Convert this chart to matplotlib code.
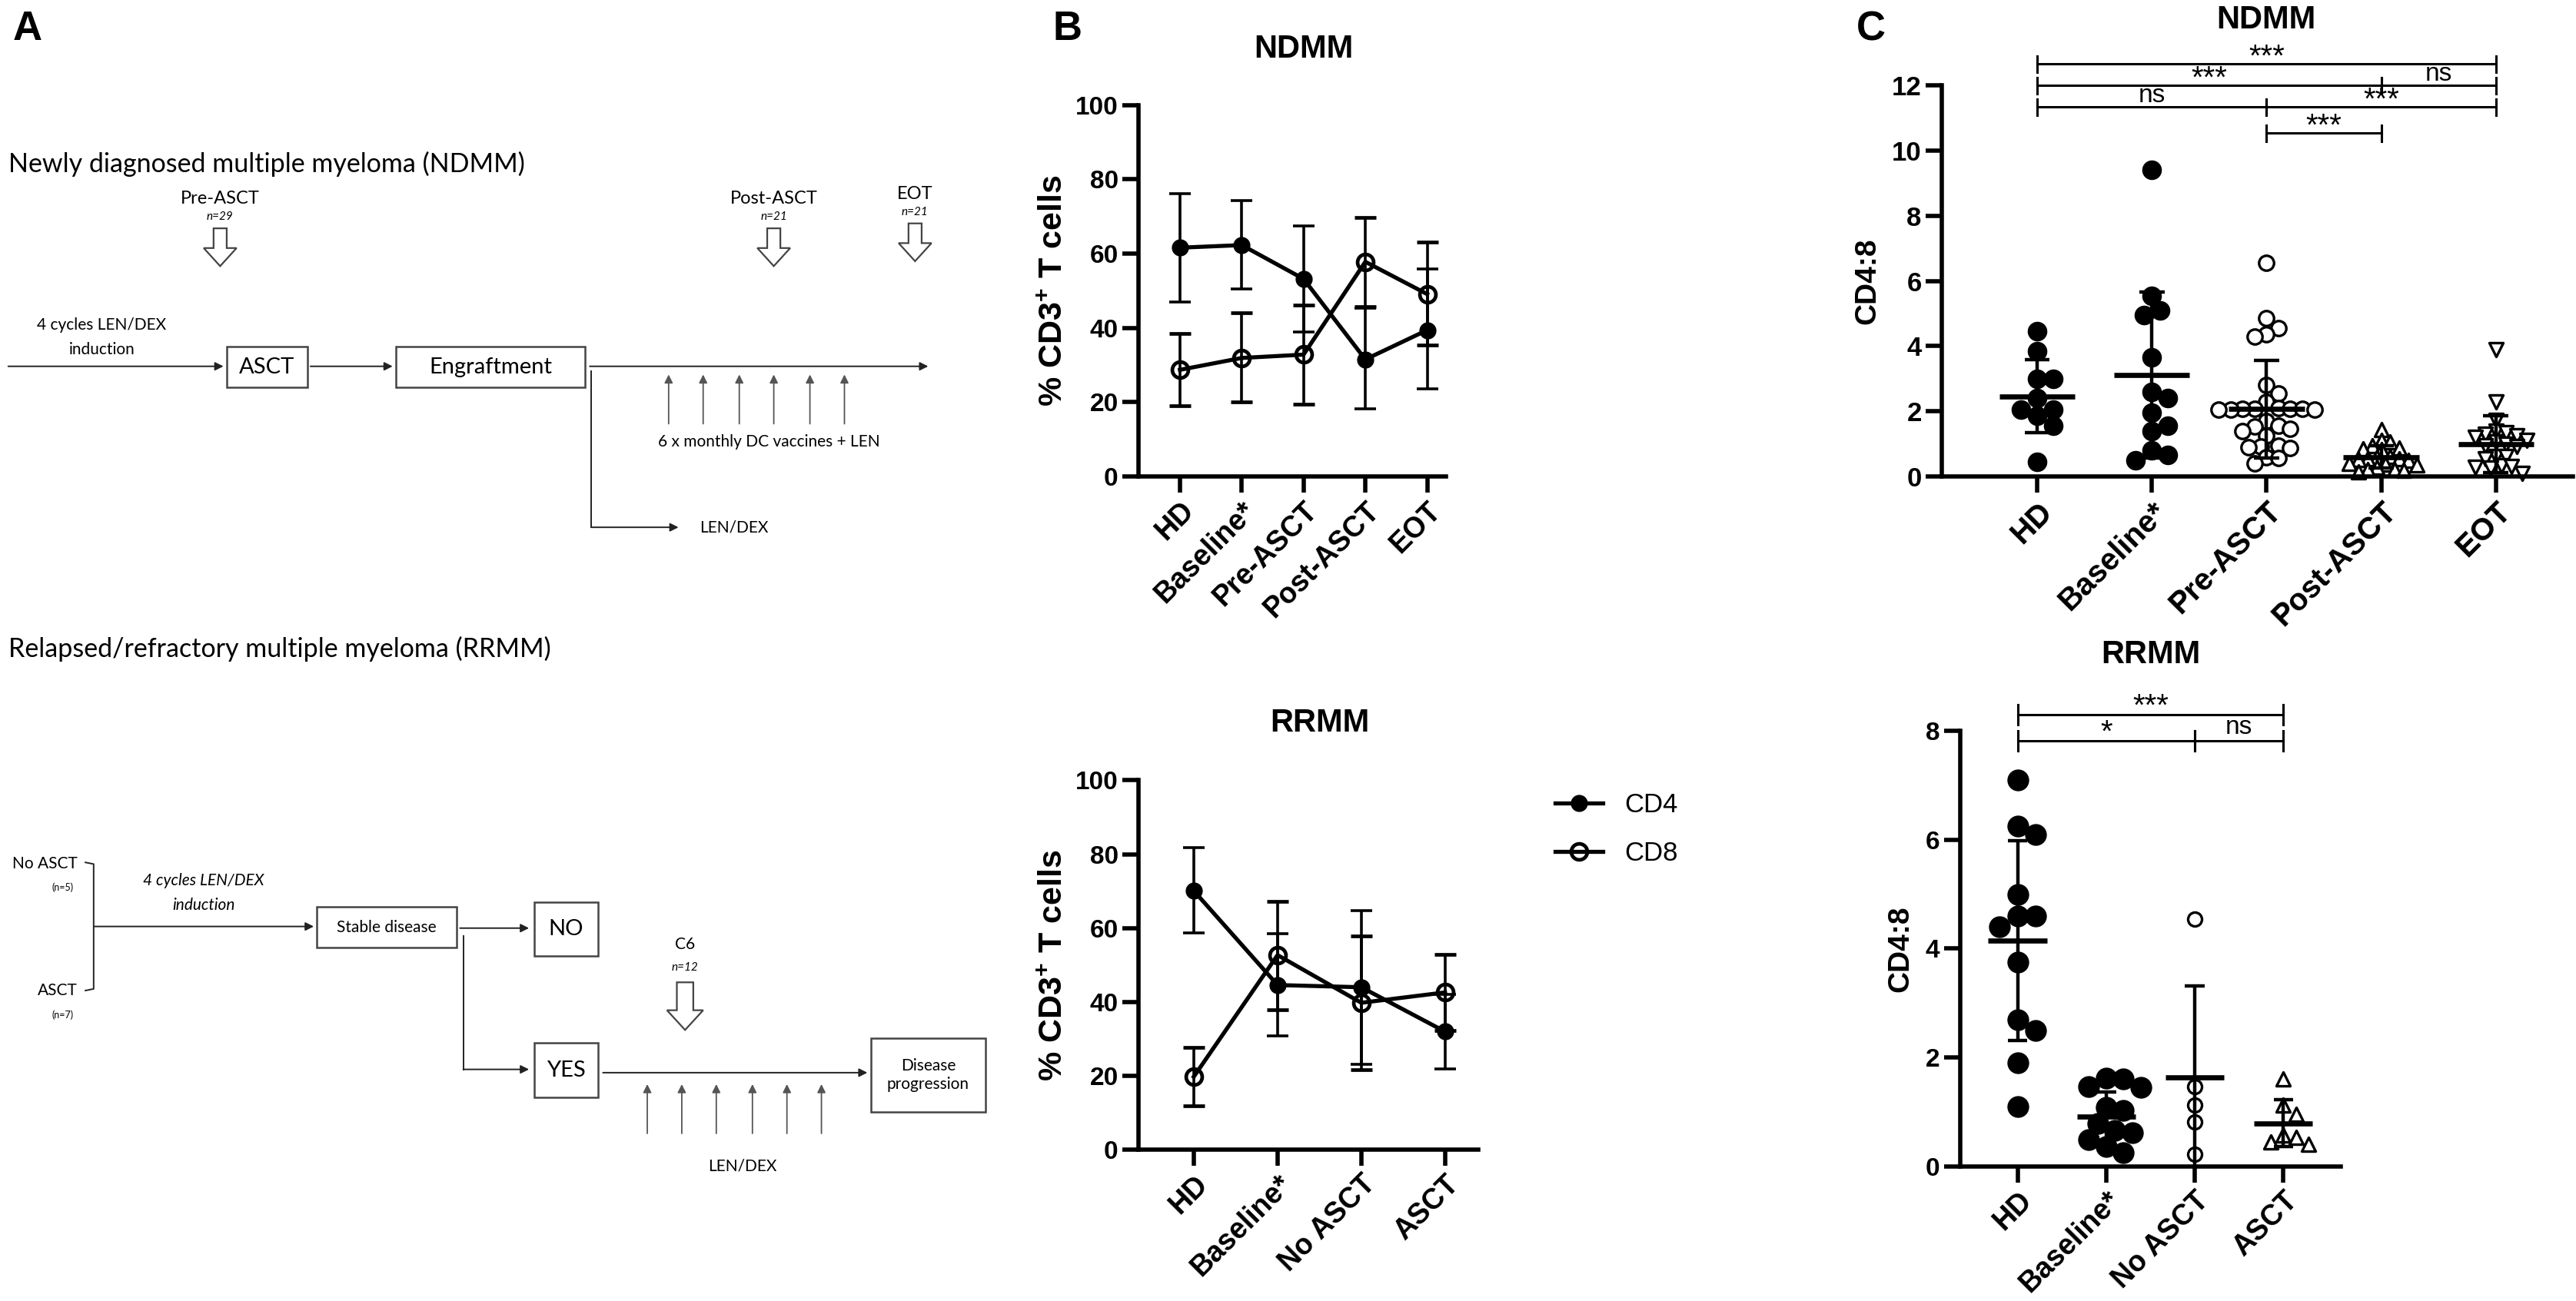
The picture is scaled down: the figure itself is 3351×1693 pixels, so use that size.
import numpy as np
import matplotlib
matplotlib.use("Agg")
import matplotlib.pyplot as plt
import matplotlib.transforms as mtransforms
from matplotlib.lines import Line2D
from matplotlib.patches import Polygon, Rectangle

# layout grid: everything is placed on a 1568 x 792 grid, scaled to the figure
W, H = 1568, 792

# ---- panel B: % of CD3+ T cells, mean with error bar ends
nd_groups = ["HD", "Baseline*", "Pre-ASCT", "Post-ASCT", "EOT"]
nd_cd4 = [61.6, 62.3, 53.2, 31.5, 39.4]
nd_cd4_lo = [47.0, 50.4, 39.0, 18.3, 23.6]
nd_cd4_hi = [76.2, 74.2, 67.4, 45.3, 55.8]
nd_cd8 = [28.7, 31.9, 32.8, 57.8, 49.1]
nd_cd8_lo = [19.0, 20.0, 19.5, 45.8, 35.4]
nd_cd8_hi = [38.5, 44.0, 46.2, 69.8, 63.2]

rr_groups = ["HD", "Baseline*", "No ASCT", "ASCT"]
rr_cd4 = [70.1, 44.6, 44.0, 32.0]
rr_cd4_lo = [58.7, 30.8, 23.2, 22.0]
rr_cd4_hi = [81.7, 58.5, 64.8, 42.0]
rr_cd8 = [19.8, 52.7, 39.8, 42.6]
rr_cd8_lo = [11.9, 38.0, 21.6, 32.2]
rr_cd8_hi = [27.7, 67.2, 57.9, 52.9]

# ---- panel C: CD4:8 ratio per patient
nd_hd = [4.45, 3.85, 3.0, 3.0, 2.05, 2.05, 2.4, 1.85, 1.55, 0.45]
nd_base = [9.4, 5.55, 5.1, 4.95, 3.65, 2.6, 2.4, 1.95, 1.55, 1.4, 0.8, 0.5, 0.65]
nd_pre = [6.55, 4.85, 4.55, 4.35, 4.3, 2.8, 2.55, 2.28, 2.1, 2.08, 2.08, 2.07,
          2.07, 2.06, 2.05, 2.05, 1.7, 1.55, 1.53, 1.45, 1.38, 1.25, 0.95, 0.92,
          0.9, 0.88, 0.58, 0.56, 0.4]
nd_post = [1.43, 1.1, 1.05, 0.95, 0.88, 0.85, 0.82, 0.62, 0.58, 0.55, 0.55,
           0.52, 0.5, 0.4, 0.38, 0.35, 0.28, 0.22, 0.2, 0.18, 0.15]
nd_eot = [3.9, 2.28, 1.72, 1.38, 1.35, 1.3, 1.25, 1.2, 1.1, 1.05, 1.0, 0.95,
          0.92, 0.62, 0.6, 0.55, 0.32, 0.3, 0.28, 0.25, 0.1]
nd_mean = [2.46, 3.12, 2.07, 0.59, 0.98]
nd_sd = [1.12, 2.55, 1.5, 0.34, 0.87]

rr_hd = [7.1, 6.25, 6.1, 5.0, 4.6, 4.6, 4.4, 3.75, 2.7, 2.5, 1.9, 1.1]
rr_base = [1.62, 1.6, 1.47, 1.45, 1.08, 1.03, 0.78, 0.66, 0.62, 0.49, 0.37, 0.25]
rr_noasct = [4.55, 1.47, 1.12, 0.82, 0.22]
rr_asct = [1.6, 1.12, 0.95, 0.58, 0.53, 0.45, 0.4]
rr_mean = [4.15, 0.91, 1.63, 0.79]
rr_sd = [1.84, 0.45, 1.69, 0.43]

# significance brackets: (from group, to group, height, label)
nd_sig = [(0, 4, 12.66, "***"), (0, 3, 12.0, "***"), (3, 4, 12.0, "ns"),
          (0, 2, 11.34, "ns"), (2, 4, 11.34, "***"), (2, 3, 10.53, "***")]
rr_sig = [(0, 3, 8.3, "***"), (0, 2, 7.82, "*"), (2, 3, 7.82, "ns")]

plt.rcParams["font.family"] = ["Liberation Sans", "DejaVu Sans"]
plt.rcParams["mathtext.fontset"] = "custom"
plt.rcParams["mathtext.rm"] = "Liberation Sans"
plt.rcParams["mathtext.bf"] = "Liberation Sans:bold"

SF = ["Lato", "DejaVu Sans"]
INK = "#222222"
SPINE = 4.0

fig = plt.figure(figsize=(33.51, 16.93), dpi=100)
ax0 = fig.add_axes([0, 0, 1, 1])
ax0.set_xlim(0, W)
ax0.set_ylim(H, 0)
ax0.axis("off")


def stext(x, y, s, size, ha="center", style="normal"):
    ax0.text(x, y, s, ha=ha, va="center", fontsize=size, family=SF,
             fontstyle=style, color="black")


def sbox(x0, y0, x1, y1, label, size):
    ax0.add_patch(Rectangle((x0, y0), x1 - x0, y1 - y0, fill=False,
                            ec="#444444", lw=1.8))
    stext((x0 + x1) / 2, (y0 + y1) / 2, label, size)


def sarrow(x0, y0, x1, y1, color=INK, lw=1.4):
    ax0.annotate("", xy=(x1, y1), xytext=(x0, y0),
                 arrowprops=dict(arrowstyle="-|>", color=color, lw=lw,
                                 mutation_scale=16, shrinkA=0, shrinkB=0))


def block_arrow(xc, ytop, ybot, shaft=4, head=10, head_len=11):
    yb = ybot - head_len
    pts = [(xc - shaft, ytop), (xc + shaft, ytop), (xc + shaft, yb),
           (xc + head, yb), (xc, ybot), (xc - head, yb), (xc - shaft, yb)]
    ax0.add_patch(Polygon(pts, closed=True, fill=False, ec="#444444", lw=1.6))


# ---- panel labels
for lab, x in (("A", 8), ("B", 641), ("C", 1130)):
    ax0.text(x, 18, lab, ha="left", va="center", fontsize=38,
             fontweight="bold")

# ---- panel A, NDMM schedule
stext(5, 100, "Newly diagnosed multiple myeloma (NDMM)", 24.5, ha="left")
for xc, name, n, yt in ((134, "Pre-ASCT", "n=29", 121),
                        (471, "Post-ASCT", "n=21", 121),
                        (557, "EOT", "n=21", 118)):
    stext(xc, yt, name, 17)
    stext(xc, yt + 11, n, 11, style="italic")
    block_arrow(xc, yt + 18, yt + 41)
stext(62, 198, "4 cycles LEN/DEX", 15)
stext(62, 213, "induction", 15)
sarrow(5, 223, 136, 223)
sbox(138, 211, 187, 236, "ASCT", 21)
sarrow(189, 223, 239, 223)
sbox(241, 211, 356, 236, "Engraftment", 21)
sarrow(359, 223, 565, 223)
ax0.plot([360, 360], [226, 321], color=INK, lw=1.4)
sarrow(360, 321, 413, 321)
stext(447, 321, "LEN/DEX", 15)
for xv in (407, 428, 450, 471, 493, 514):
    sarrow(xv, 258, xv, 228, color="#555555", lw=1.3)
stext(468, 269, "6 x monthly DC vaccines + LEN", 15)

# ---- panel A, RRMM schedule
stext(5, 395, "Relapsed/refractory multiple myeloma (RRMM)", 24.5, ha="left")
stext(47, 526, "No ASCT", 15, ha="right")
stext(38, 540, "(n=5)", 9)
stext(47, 603, "ASCT", 15, ha="right")
stext(38, 618, "(n=7)", 9)
ax0.plot([52, 57, 57, 52], [525, 526, 602, 603], color=INK, lw=1.4)
sarrow(57, 564, 191, 564)
stext(124, 536, "4 cycles LEN/DEX", 15, style="italic")
stext(124, 551, "induction", 15, style="italic")
sbox(193, 552, 278, 577, "Stable disease", 15)
sarrow(280, 565, 322, 565)
sbox(325, 549, 364, 582, "NO", 21)
ax0.plot([282, 282], [570, 651], color=INK, lw=1.4)
sarrow(282, 651, 322, 651)
sbox(325, 635, 364, 668, "YES", 21)
sarrow(367, 653, 528, 653)
sbox(530, 632, 600, 677, "Disease\nprogression", 15)
stext(417, 575, "C6", 15)
stext(417, 589, "n=12", 11, style="italic")
block_arrow(417, 598, 627, shaft=5, head=11, head_len=12)
for xv in (394, 415, 436, 458, 479, 500):
    sarrow(xv, 690, xv, 660, color="#555555", lw=1.3)
stext(452, 710, "LEN/DEX", 15)


def place(x0, y_top, x1, y_bot):
    return fig.add_axes([x0 / W, 1 - y_bot / H, (x1 - x0) / W,
                         (y_bot - y_top) / H])


def style(ax, labels, xlim, ylim, yticks, ysize=24, xsize=27):
    ax.set_xlim(*xlim)
    ax.set_ylim(*ylim)
    ax.set_yticks(yticks, labels=[str(v) for v in yticks],
                  fontsize=ysize, fontweight="bold")
    ax.set_xticks(range(len(labels)))
    ax.set_xticklabels(labels, rotation=45, ha="right", va="top",
                       rotation_mode="anchor", fontsize=xsize,
                       fontweight="bold")
    for side in ("top", "right"):
        ax.spines[side].set_visible(False)
    for side in ("left", "bottom"):
        ax.spines[side].set_linewidth(SPINE)
    ax.tick_params(width=SPINE, length=15, pad=4)
    ax.patch.set_alpha(0)


def title(ax, text, mid, frac):
    tr = mtransforms.blended_transform_factory(ax.transData, ax.transAxes)
    ax.text(mid, frac, text, transform=tr, ha="center", va="center",
            fontsize=30, fontweight="bold")


def line_panel(ax, cd4, lo4, hi4, cd8, lo8, hi8):
    x = np.arange(len(cd4))
    cd4, lo4, hi4 = np.array(cd4), np.array(lo4), np.array(hi4)
    cd8, lo8, hi8 = np.array(cd8), np.array(lo8), np.array(hi8)
    common = dict(color="black", lw=3.8, ms=15, elinewidth=2.6,
                  capsize=10, capthick=2.6, clip_on=False)
    ax.errorbar(x, cd4, yerr=[cd4 - lo4, hi4 - cd4], fmt="-o", mfc="black",
                **common)
    ax.errorbar(x, cd8, yerr=[cd8 - lo8, hi8 - cd8], fmt="-o", mfc="none",
                mew=3.4, **common)
    ax.set_ylabel(r"% CD3$^\mathbf{+}$ T cells", fontsize=31,
                  fontweight="bold", labelpad=6)


def swarm(ax, values, size_pt, pack):
    # spread points sideways so they do not sit on top of each other;
    # pack < 1 lets neighbours overlap a little, as in dense groups
    values = np.asarray(values, dtype=float)
    pos = ax.get_position()
    xl, yl = ax.get_xlim(), ax.get_ylim()
    ppx = pos.width * fig.get_figwidth() * 72 / (xl[1] - xl[0])
    ppy = pos.height * fig.get_figheight() * 72 / (yl[1] - yl[0])
    placed = []
    offsets = np.zeros(len(values))
    for idx in np.argsort(values)[::-1]:
        y = values[idx] * ppy
        step = 0.0
        for k in range(80):
            step = ((k + 1) // 2) * (1 if k % 2 else -1) * 0.5 * pack * size_pt
            if all((step - px) ** 2 + (y - py) ** 2 >= (pack * size_pt) ** 2
                   for px, py in placed):
                break
        placed.append((step, y))
        offsets[idx] = step / ppx
    return offsets


def scatter_panel(ax, groups, kinds, means, sds):
    for i, (vals, (marker, fc, size, pack)) in enumerate(zip(groups, kinds)):
        dx = swarm(ax, vals, size, pack)
        ax.scatter(i + dx, vals, s=size ** 2, marker=marker, facecolors=fc,
                   edgecolors="black", linewidths=2.4, zorder=2,
                   clip_on=False)
        m, s = means[i], sds[i]
        ax.hlines(m, i - 0.33, i + 0.33, color="black", lw=4.8, zorder=3)
        ax.vlines(i, max(m - s, 0), m + s, color="black", lw=3.2, zorder=3)
        for c in (m - s, m + s):
            if c > 0:
                ax.hlines(c, i - 0.11, i + 0.11, color="black", lw=3.2,
                          zorder=3)
    ax.set_ylabel("CD4:8", fontsize=28, fontweight="bold", labelpad=10)


def brackets(ax, sigs, tick_h, dy):
    for a, b, y, label in sigs:
        ax.plot([a, b], [y, y], color="black", lw=2.2, clip_on=False)
        for xe in (a, b):
            ax.plot([xe, xe], [y - tick_h, y + tick_h], color="black",
                    lw=2.2, clip_on=False)
        star = "*" in label
        ax.text((a + b) / 2, y + dy * (0.6 if star else 1.0), label,
                ha="center", va="center", fontsize=29 if star else 24)


# ---- panel B, NDMM
axb1 = place(693, 64, 880, 290)
style(axb1, nd_groups, (-0.67, 4.3), (0, 100), [0, 20, 40, 60, 80, 100])
line_panel(axb1, nd_cd4, nd_cd4_lo, nd_cd4_hi, nd_cd8, nd_cd8_lo, nd_cd8_hi)
title(axb1, "NDMM", 2, 1.15)

# ---- panel B, RRMM
axb2 = place(693, 475, 900, 700)
style(axb2, rr_groups, (-0.66, 3.4), (0, 100), [0, 20, 40, 60, 80, 100])
line_panel(axb2, rr_cd4, rr_cd4_lo, rr_cd4_hi, rr_cd8, rr_cd8_lo, rr_cd8_hi)
title(axb2, "RRMM", 1.5, 1.155)
h4 = Line2D([], [], color="black", lw=3.8, marker="o", ms=15, mfc="black")
h8 = Line2D([], [], color="black", lw=3.8, marker="o", ms=15, mfc="none",
            mew=3.4)
axb2.legend([h4, h8], ["CD4", "CD8"], loc="upper left",
            bbox_to_anchor=(940 / W, 1 - 476 / H),
            bbox_transform=fig.transFigure, frameon=False, fontsize=25,
            handlelength=1.8, labelspacing=0.85, borderaxespad=0)

# ---- panel C, NDMM
axc1 = place(1182, 52, 1566, 290)
style(axc1, nd_groups, (-0.83, 4.67), (0, 12), [0, 2, 4, 6, 8, 10, 12],
      ysize=25, xsize=29)
scatter_panel(axc1, [nd_hd, nd_base, nd_pre, nd_post, nd_eot],
              [("o", "black", 16, 0.95), ("o", "black", 16, 0.95),
               ("o", "white", 14, 0.8), ("^", "white", 13, 0.65),
               ("v", "white", 13, 0.75)], nd_mean, nd_sd)
brackets(axc1, nd_sig, 0.25, 0.34)
title(axc1, "NDMM", 2, 1.168)

# ---- panel C, RRMM
axc2 = place(1193, 445, 1425, 710)
style(axc2, rr_groups, (-0.65, 3.65), (0, 8), [0, 2, 4, 6, 8])
scatter_panel(axc2, [rr_hd, rr_base, rr_noasct, rr_asct],
              [("o", "black", 18, 0.95), ("o", "black", 18, 0.9),
               ("o", "white", 13, 0.9), ("^", "white", 13, 0.9)],
              rr_mean, rr_sd)
brackets(axc2, rr_sig, 0.18, 0.24)
title(axc2, "RRMM", 1.5, 1.176)

fig.savefig("out.png", dpi=100)
